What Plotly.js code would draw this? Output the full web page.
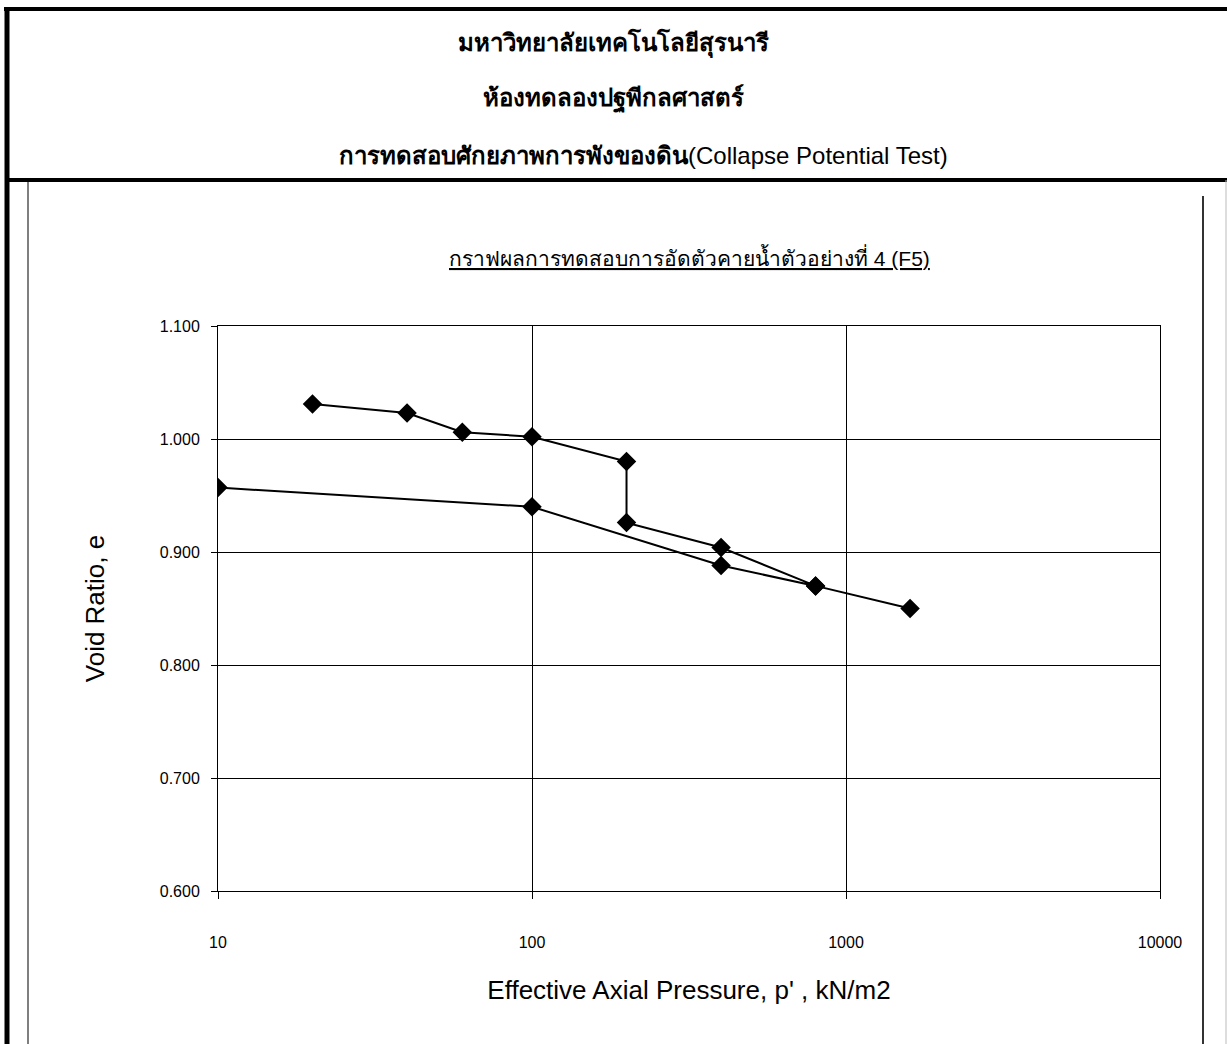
<!DOCTYPE html>
<html>
<head>
<meta charset="utf-8">
<script src="https://cdn.plot.ly/plotly-3.0.1.min.js"></script>
<style>
html,body{margin:0;padding:0;background:#fff;}
#chart{width:1227px;height:1044px;}
</style>
</head>
<body>
<div id="chart"></div>
<script>
// ---- data ----
const pressure = [20, 40, 60, 100, 200, 200, 400, 800, 1600, 800, 400, 100, 10];
const voidRatio = [1.031, 1.023, 1.006, 1.002, 0.980, 0.926, 0.904, 0.870, 0.850, 0.870, 0.888, 0.940, 0.957];
const yTickVals = [0.6, 0.7, 0.8, 0.9, 1.0, 1.1];
const yTickText = ['0.600', '0.700', '0.800', '0.900', '1.000', '1.100'];
const xTickVals = [10, 100, 1000, 10000];
const xTickText = ['10', '100', '1000', '10000'];
const headerLines = ['มหาวิทยาลัยเทคโนโลยีสุรนารี', 'ห้องทดลองปฐพีกลศาสตร์'];
const headerThai3 = 'การทดสอบศักยภาพการพังของดิน';
const headerEng3 = '(Collapse Potential Test)';
const chartTitle = 'กราฟผลการทดสอบการอัดตัวคายน้ำตัวอย่างที่ 4 (F5)';
const xTitle = "Effective Axial Pressure, p' , kN/m2";
const yTitle = 'Void Ratio, e';

// ---- layout geometry (pixels) ----
const W = 1227, H = 1044;
const L = 218, R = 1160, T = 326, B = 891;
const px = x => (x - L) / (R - L);
const py = y => (B - y) / (B - T);
const FONT = 'Arial, "Liberation Sans", "Noto Sans", sans-serif';

function line(x0, y0, x1, y1, w, color, dash) {
  return {type: 'line', xref: 'paper', yref: 'paper',
    x0: px(x0), y0: py(y0), x1: px(x1), y1: py(y1),
    line: {color: color || '#000', width: w, dash: dash || 'solid'}, layer: 'above'};
}

const shapes = [
  line(4, 9, W, 9, 4),
  line(7, 7, 7, H, 5),
  line(7, 180, W, 180, 4),
  line(28, 182, 28, H, 1.5, '#555'),
  line(1203, 196, 1203, H, 2, '#333'),
  line(1226, 180, 1226, H, 1, '#bbb')
];

const annotations = [
  {text: '<b>' + headerLines[0] + '</b>', x: px(613), y: py(43), size: 24},
  {text: '<b>' + headerLines[1] + '</b>', x: px(613), y: py(99), size: 24},
  {text: '<b>' + headerThai3 + '</b>' + headerEng3, x: px(643), y: py(155), size: 24},
  {text: '<u>' + chartTitle + '</u>', x: px(689), y: py(257), size: 21}
].map(a => ({
  text: a.text, x: a.x, y: a.y, xref: 'paper', yref: 'paper',
  xanchor: 'center', yanchor: 'middle', showarrow: false,
  font: {family: FONT, size: a.size, color: '#000'}
}));

const trace = {
  x: pressure, y: voidRatio, type: 'scatter', mode: 'lines+markers',
  line: {color: '#000', width: 2},
  marker: {symbol: 'diamond', size: 15, color: '#000'},
  showlegend: false, hoverinfo: 'x+y'
};

const layout = {
  width: W, height: H,
  margin: {l: L, r: W - R, t: T, b: H - B, pad: 0},
  paper_bgcolor: '#fff', plot_bgcolor: '#fff',
  font: {family: FONT, color: '#000'},
  showlegend: false,
  xaxis: {
    type: 'log', range: [1, 4], tickvals: xTickVals, ticktext: xTickText,
    showgrid: true, gridcolor: '#000', gridwidth: 1,
    showline: true, linecolor: '#000', linewidth: 1, mirror: true,
    ticks: 'outside', ticklen: 7, tickcolor: '#000',
    ticklabelstandoff: 30,
    tickfont: {family: FONT, size: 16, color: '#000'},
    title: {text: xTitle, font: {family: FONT, size: 26, color: '#000'}, standoff: 30},
    zeroline: false
  },
  yaxis: {
    range: [0.6, 1.1], tickvals: yTickVals, ticktext: yTickText,
    showgrid: true, gridcolor: '#000', gridwidth: 1,
    showline: true, linecolor: '#000', linewidth: 1, mirror: true,
    ticks: 'outside', ticklen: 6, tickcolor: '#000',
    ticklabelstandoff: 8,
    tickfont: {family: FONT, size: 16, color: '#000'},
    title: {text: yTitle, font: {family: FONT, size: 26, color: '#000'}, standoff: 47},
    zeroline: false
  },
  shapes: shapes,
  annotations: annotations
};

Plotly.newPlot('chart', [trace], layout, {displayModeBar: false, staticPlot: true});
</script>
</body>
</html>
